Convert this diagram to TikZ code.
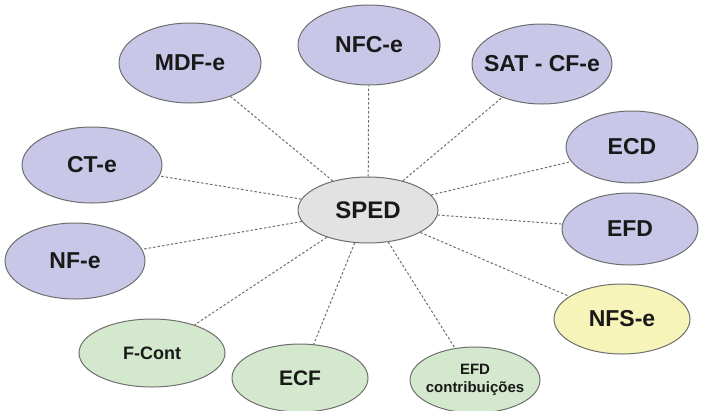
\documentclass[tikz,border=0pt]{standalone}
\usepackage{fontspec}
\setmainfont{Liberation Sans}
\usetikzlibrary{shapes.geometric}
\definecolor{softlilac}{HTML}{C9C7E7}
\definecolor{softgray}{HTML}{E2E2E2}
\definecolor{softgreen}{HTML}{D3E8CC}
\definecolor{softyellow}{HTML}{F6F4B8}
\definecolor{rimgray}{HTML}{6E6E6E}

\begin{document}
\begin{tikzpicture}[x=1pt,y=-1pt,font=\bfseries,
  bubble/.style={ellipse,draw=rimgray,line width=1pt,inner xsep=-20pt,inner ysep=-6pt,text=black!90},
  lilac/.style={bubble,fill=softlilac,minimum width=142pt,minimum height=80pt,font=\bfseries\fontsize{23}{25}\selectfont},
  leaf/.style={bubble,fill=softgreen,minimum height=68pt},
  link/.style={draw=rimgray,line width=1pt,dash pattern=on 2.5pt off 2pt}]
\useasboundingbox (0,0) rectangle (703,410);
\node[bubble,fill=softgray,minimum width=140pt,minimum height=66pt,font=\bfseries\fontsize{24}{26}\selectfont] (sped) at (368,210) {SPED};
\node[lilac] (mdf) at (190,63) {MDF-e};
\node[lilac] (nfc) at (369,45) {NFC-e};
\node[lilac,minimum width=140pt] (sat) at (542,64) {SAT - CF-e};
\node[lilac,minimum width=132pt,minimum height=72pt] (ecd) at (632,147) {ECD};
\node[lilac,minimum width=136pt,minimum height=72pt] (efd) at (630,229) {EFD};
\node[bubble,fill=softyellow,minimum width=136pt,minimum height=70pt,font=\bfseries\fontsize{23}{25}\selectfont] (nfs) at (622,319) {NFS-e};
\node[leaf,minimum width=130pt,minimum height=66pt,align=center,font=\bfseries\fontsize{15}{18}\selectfont] (contrib) at (475,380) {EFD\\contribuições};
\node[leaf,minimum width=136pt,font=\bfseries\fontsize{21}{23}\selectfont] (ecf) at (300,378) {ECF};
\node[leaf,minimum width=146pt,font=\bfseries\fontsize{18}{20}\selectfont] (fcont) at (152,353) {F-Cont};
\node[lilac,minimum width=140pt,minimum height=76pt] (nfe) at (75,261) {NF-e};
\node[lilac,minimum width=140pt,minimum height=76pt] (cte) at (92,165) {CT-e};
% dashed spokes from the hub
\draw[link] (sped) -- (mdf);
\draw[link] (sped) -- (nfc);
\draw[link] (sped) -- (sat);
\draw[link] (sped) -- (ecd);
\draw[link] (sped) -- (efd);
\draw[link] (sped) -- (nfs);
\draw[link] (sped) -- (contrib);
\draw[link] (sped) -- (ecf);
\draw[link] (sped) -- (fcont);
\draw[link] (sped) -- (nfe);
\draw[link] (sped) -- (cte);
\end{tikzpicture}
\end{document}
